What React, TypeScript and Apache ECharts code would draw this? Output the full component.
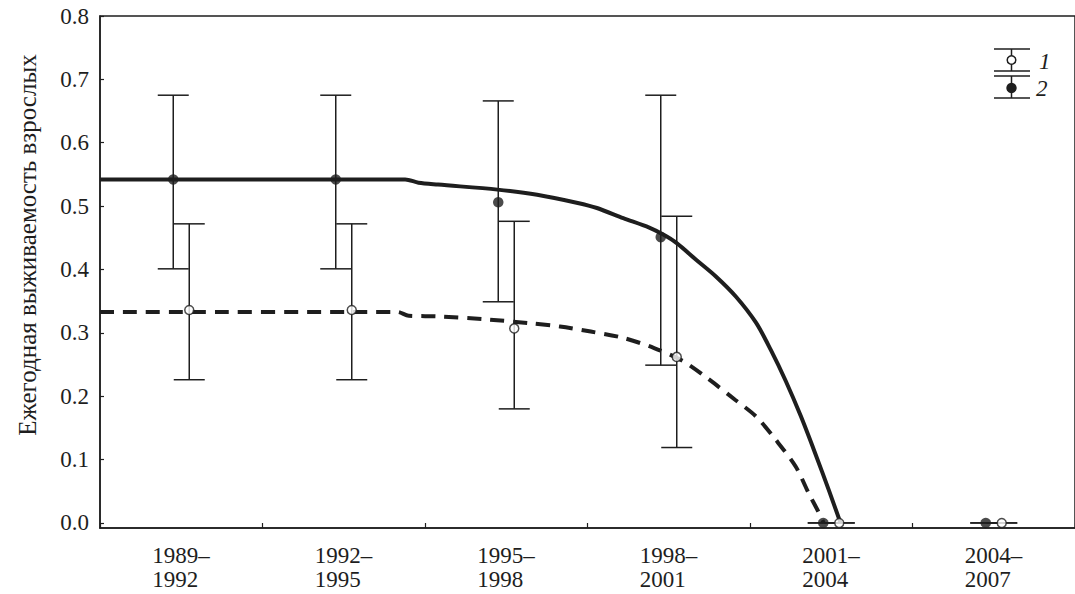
import React, { useEffect, useRef } from "react";
import * as echarts from "echarts";

// ---- data ----
const categories = ["1989–1992", "1992–1995", "1995–1998", "1998–2001", "2001–2004", "2004–2007"];
// series 2 (filled)
const filledMean = [0.542, 0.542, 0.506, 0.451, 0, 0];
const filledLow = [0.401, 0.401, 0.349, 0.249, 0, 0];
const filledHigh = [0.675, 0.675, 0.666, 0.675, 0, 0];
// series 1 (open)
const openMean = [0.336, 0.336, 0.307, 0.262, 0, 0];
const openLow = [0.226, 0.226, 0.18, 0.119, 0, 0];
const openHigh = [0.472, 0.472, 0.476, 0.484, 0, 0];
// model curves (x in category-width units from the left axis)
const solidCurveX = [0, 1.878, 1.96, 2.08, 2.446, 2.69, 2.94, 3.058, 3.22, 3.38, 3.466, 3.547, 3.67, 3.79, 3.914, 4.037, 4.128, 4.22, 4.312, 4.398, 4.489, 4.557];
const solidCurveY = [0.542, 0.542, 0.537, 0.534, 0.526, 0.518, 0.505, 0.497, 0.481, 0.466, 0.455, 0.442, 0.415, 0.389, 0.357, 0.316, 0.273, 0.224, 0.169, 0.112, 0.049, 0];
const dashedCurveX = [0, 1.83, 1.9, 2.08, 2.39, 2.65, 2.83, 3.02, 3.22, 3.41, 3.59, 3.75, 3.91, 4.037, 4.159, 4.281, 4.361, 4.416, 4.453];
const dashedCurveY = [0.333, 0.333, 0.327, 0.326, 0.321, 0.315, 0.31, 0.302, 0.292, 0.276, 0.255, 0.226, 0.194, 0.168, 0.131, 0.089, 0.047, 0.02, 0];
const yTicks = [0, 0.1, 0.2, 0.3, 0.4, 0.5, 0.6, 0.7, 0.8];
const yAxisTitle = "Ежегодная выживаемость взрослых";
const legendLabels = ["1", "2"];

const FONT = "'Liberation Serif', 'Times New Roman', serif";
const INK = "#1e1e1e";

function errorBarSeries(low: number[], high: number[], offset: number) {
  return {
    type: "custom",
    xAxisIndex: 0,
    yAxisIndex: 0,
    z: 3,
    silent: true,
    data: low.map((l, i) => [i, l, high[i]]),
    encode: { x: 0, y: [1, 2] },
    renderItem: (_p: any, api: any) => {
      const i = api.value(0);
      const pLo = api.coord([i, api.value(1)]);
      const pHi = api.coord([i, api.value(2)]);
      const x = pLo[0] + offset;
      const half = 15.5;
      const style = { stroke: INK, lineWidth: 1.5 };
      return {
        type: "group",
        children: [
          { type: "line", shape: { x1: x, y1: pHi[1], x2: x, y2: pLo[1] }, style },
          { type: "line", shape: { x1: x - half, y1: pHi[1], x2: x + half, y2: pHi[1] }, style },
          { type: "line", shape: { x1: x - half, y1: pLo[1], x2: x + half, y2: pLo[1] }, style },
        ],
      };
    },
  };
}

export default function App() {
  const ref = useRef<HTMLDivElement>(null);
  useEffect(() => {
    if (!ref.current) return;
    const chart = echarts.init(ref.current, undefined, { renderer: "svg" });
    const lx = 1011.5;
    const legendStyle = { stroke: INK, lineWidth: 1.5 };
    const option: any = {
      animation: false,
      backgroundColor: "#ffffff",
      grid: {
        left: 100,
        right: -6,
        top: 16,
        bottom: 66,
        show: true,
        borderColor: INK,
        borderWidth: 1.5,
        backgroundColor: "transparent",
      },
      xAxis: [
        {
          type: "category",
          data: categories,
          boundaryGap: true,
          axisLine: { show: true, onZero: false, lineStyle: { color: INK, width: 1.5 } },
          axisTick: { show: true, inside: true, length: 5, lineStyle: { color: INK, width: 1.2 } },
          axisLabel: {
            margin: 15,
            formatter: (v: string) => {
              const [a, b] = v.split("–");
              return `{t|${a}–}\n{t|${b}}`;
            },
            rich: {
              t: { width: 58, align: "left", fontSize: 23, fontFamily: FONT, color: INK, lineHeight: 24 },
            },
          },
          splitLine: { show: false },
        },
        { type: "value", min: 0, max: 6, show: false },
      ],
      yAxis: {
        type: "value",
        min: -0.008,
        max: 0.8,
        axisLine: { show: true, lineStyle: { color: INK, width: 1.5 } },
        axisTick: { show: true, inside: true, length: 4, customValues: yTicks, lineStyle: { color: INK, width: 1.2 } },
        axisLabel: {
          customValues: yTicks,
          formatter: (v: number) => v.toFixed(1),
          fontSize: 23,
          fontFamily: FONT,
          color: INK,
          margin: 11,
        },
        splitLine: { show: false },
      },
      series: [
        {
          type: "line",
          xAxisIndex: 1,
          yAxisIndex: 0,
          data: solidCurveX.map((x, i) => [x, solidCurveY[i]]),
          showSymbol: false,
          symbol: "none",
          smooth: 0.3,
          z: 2,
          lineStyle: { color: INK, width: 4 },
          silent: true,
        },
        {
          type: "line",
          xAxisIndex: 1,
          yAxisIndex: 0,
          data: dashedCurveX.map((x, i) => [x, dashedCurveY[i]]),
          showSymbol: false,
          symbol: "none",
          smooth: 0.3,
          z: 2,
          lineStyle: { color: INK, width: 4, type: [14, 9] },
          silent: true,
        },
        errorBarSeries(filledLow, filledHigh, -8),
        errorBarSeries(openLow, openHigh, 8),
        {
          type: "scatter",
          name: legendLabels[1],
          xAxisIndex: 0,
          yAxisIndex: 0,
          data: filledMean,
          symbol: "circle",
          symbolSize: 10.5,
          symbolOffset: [-8, 0],
          itemStyle: { color: INK },
          z: 5,
        },
        {
          type: "scatter",
          name: legendLabels[0],
          xAxisIndex: 0,
          yAxisIndex: 0,
          data: openMean,
          symbol: "circle",
          symbolSize: 9,
          symbolOffset: [8, 0],
          itemStyle: { color: "#ffffff", borderColor: INK, borderWidth: 1.5 },
          z: 5,
        },
      ],
      graphic: [
        {
          type: "text",
          x: 27,
          y: 245,
          rotation: Math.PI / 2,
          style: {
            text: yAxisTitle,
            fontSize: 25,
            fontFamily: FONT,
            fill: INK,
            align: "center",
            verticalAlign: "middle",
          },
        },
        // legend item 1
        { type: "line", shape: { x1: 994, y1: 49, x2: 1030, y2: 49 }, style: legendStyle },
        { type: "line", shape: { x1: 994, y1: 71, x2: 1030, y2: 71 }, style: legendStyle },
        { type: "line", shape: { x1: lx, y1: 49, x2: lx, y2: 71 }, style: legendStyle },
        { type: "circle", shape: { cx: lx, cy: 60, r: 4.3 }, style: { fill: "#fff", stroke: INK, lineWidth: 1.5 }, z: 10 },
        {
          type: "text",
          x: 1039,
          y: 61,
          style: { text: legendLabels[0], fontSize: 23, fontStyle: "italic", fontFamily: FONT, fill: INK, align: "left", verticalAlign: "middle" },
        },
        // legend item 2
        { type: "line", shape: { x1: 994, y1: 76, x2: 1030, y2: 76 }, style: legendStyle },
        { type: "line", shape: { x1: 994, y1: 98, x2: 1030, y2: 98 }, style: legendStyle },
        { type: "line", shape: { x1: lx, y1: 76, x2: lx, y2: 98 }, style: legendStyle },
        { type: "circle", shape: { cx: lx, cy: 88, r: 5.2 }, style: { fill: INK }, z: 10 },
        {
          type: "text",
          x: 1036,
          y: 88,
          style: { text: legendLabels[1], fontSize: 23, fontStyle: "italic", fontFamily: FONT, fill: INK, align: "left", verticalAlign: "middle" },
        },
      ],
    };
    chart.setOption(option);
    return () => chart.dispose();
  }, []);
  return (
    <div
      ref={ref}
      style={{ position: "fixed", left: 0, top: 0, width: 1075, height: 594, background: "#fff" }}
    />
  );
}
